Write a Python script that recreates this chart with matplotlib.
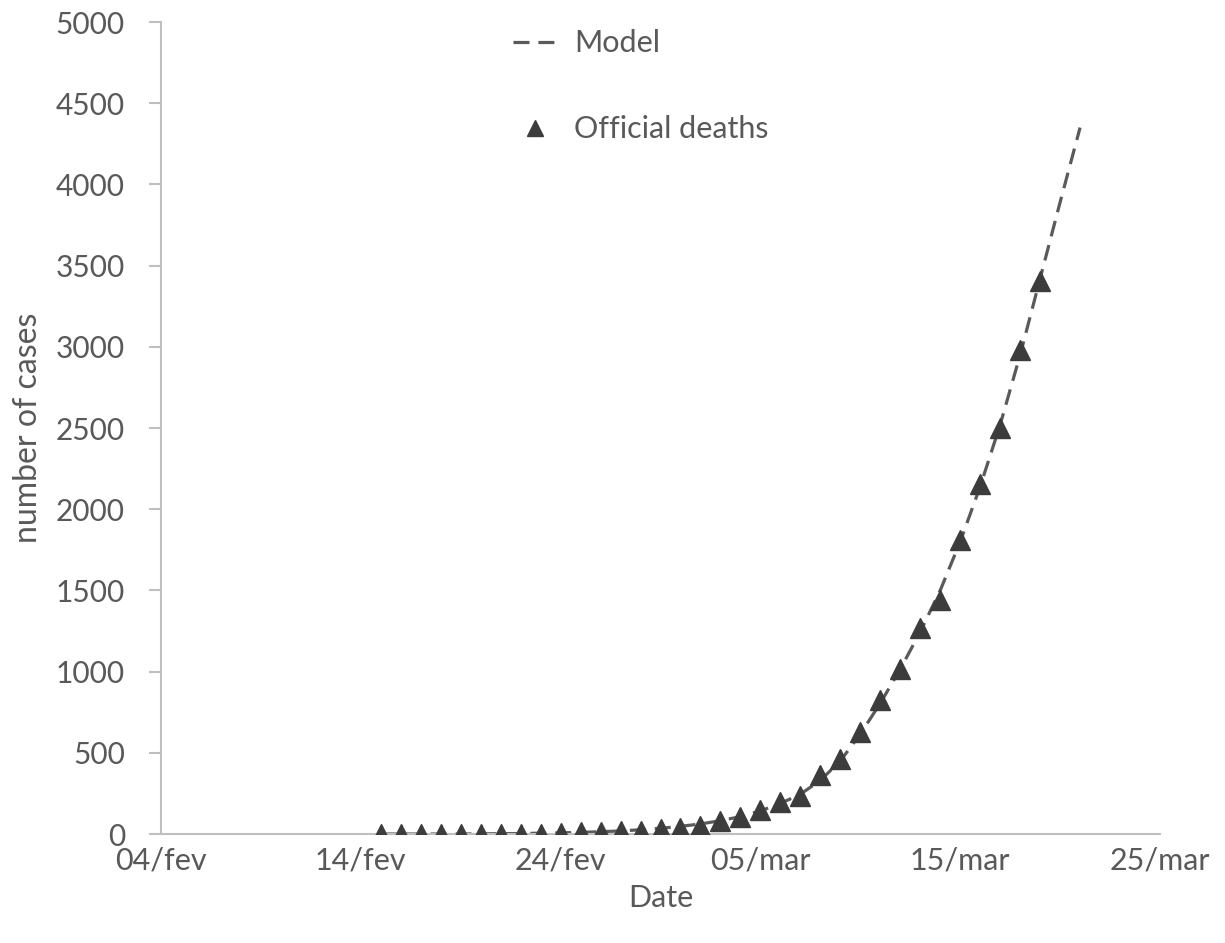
import matplotlib
matplotlib.use("Agg")
import matplotlib.pyplot as plt
import numpy as np
import datetime as dt

# ---- data ----
obs_start = "2020-02-15"
official_deaths = [0, 0, 0, 0, 0, 0, 1, 2, 3, 7, 10, 12, 17, 21, 29, 34, 52, 79,
                   107, 148, 197, 233, 366, 463, 631, 827, 1016, 1266, 1441,
                   1809, 2158, 2503, 2978, 3405]
model_start = "2020-02-15"
model_values = [0, 0, 0, 0, 0, 1, 2, 3, 5, 7, 10, 14, 19, 26, 35, 47, 62, 82,
                107, 142, 188, 245, 330, 450, 615, 805, 1015, 1245, 1500,
                1800, 2140, 2520, 2950, 3420, 3890, 4350]
tick_dates = ["2020-02-04", "2020-02-14", "2020-02-24", "2020-03-05", "2020-03-15", "2020-03-25"]
tick_labels = ["04/fev", "14/fev", "24/fev", "05/mar", "15/mar", "25/mar"]
y_ticks = [0, 500, 1000, 1500, 2000, 2500, 3000, 3500, 4000, 4500, 5000]

def day_range(start, n):
    d0 = np.datetime64(start)
    return d0 + np.arange(n).astype("timedelta64[D]")

obs_x = day_range(obs_start, len(official_deaths)).astype("datetime64[D]").astype(dt.date)
mod_x = day_range(model_start, len(model_values)).astype("datetime64[D]").astype(dt.date)
tx = [np.datetime64(t).astype(dt.date) for t in tick_dates]

plt.rcParams['font.family'] = ['Lato', 'DejaVu Sans']
text_c = "#595959"
axis_c = "#bfbfbf"
fs = 22

fig = plt.figure(figsize=(12.25, 9.43), dpi=100)
ax = fig.add_axes([161/1225, 1-834/943, (1160-161)/1225, (834-22)/943])

ax.plot(mod_x, model_values, color="#5a5a5a", lw=2.3, dashes=(5, 2.8),
        label="Model", zorder=2)
ax.plot(obs_x, official_deaths, ls="none", marker="^", ms=15,
        color="#3c3c3c", label="Official deaths", zorder=3)

ax.set_xlim(tx[0], tx[-1])
ax.set_ylim(0, 5000)
ax.set_xticks(tx)
ax.set_xticklabels(tick_labels)
ax.set_yticks(y_ticks)

for s in ["top", "right"]:
    ax.spines[s].set_visible(False)
for s in ["left", "bottom"]:
    ax.spines[s].set_color(axis_c)
    ax.spines[s].set_linewidth(1.5)

ax.tick_params(axis="y", direction="out", length=9, width=1.5, color=axis_c,
               labelcolor=text_c, labelsize=fs - 0.5, pad=17)
ax.tick_params(axis="x", length=0, labelcolor=text_c, labelsize=fs, pad=9)

ax.set_xlabel("Date", color=text_c, fontsize=fs, labelpad=7)
ax.set_ylabel("number of cases", color=text_c, fontsize=fs + 1, va="center")
ax.yaxis.set_label_coords((28 - 161) / 999, 0.5)

leg = ax.legend(loc="upper left", bbox_to_anchor=(0.325, 1.025), frameon=False,
                fontsize=fs, labelcolor=text_c, labelspacing=1.9,
                handlelength=1.4, handletextpad=0.6, markerscale=0.75)

fig.savefig("out.png", dpi=100, facecolor="white")
